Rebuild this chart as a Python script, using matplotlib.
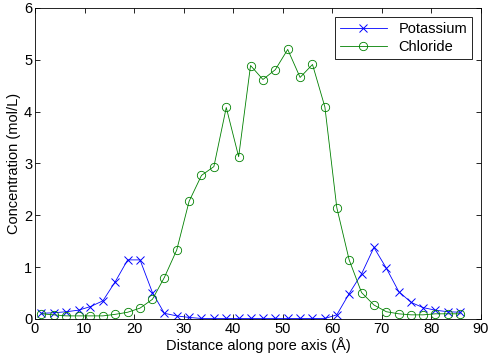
import matplotlib
matplotlib.use("Agg")
import matplotlib.pyplot as plt

plt.rcParams['font.family'] = ['Liberation Sans', 'DejaVu Sans']
plt.rcParams['font.size'] = 10

# distance along pore axis (Angstrom)
distance = [1.3, 3.8, 6.3, 8.8, 11.2, 13.7, 16.2, 18.7, 21.2, 23.7,
            26.1, 28.6, 31.1, 33.6, 36.1, 38.6, 41.1, 43.5, 46.0, 48.5,
            51.0, 53.5, 56.0, 58.5, 60.9, 63.4, 65.9, 68.4, 70.9, 73.4,
            75.9, 78.3, 80.8, 83.3, 85.8]

potassium = [0.11, 0.12, 0.14, 0.17, 0.24, 0.35, 0.72, 1.14, 1.14, 0.51,
             0.11, 0.06, 0.03, 0.01, 0.01, 0.01, 0.01, 0.01, 0.01, 0.01,
             0.01, 0.01, 0.01, 0.01, 0.08, 0.49, 0.87, 1.38, 0.98, 0.53,
             0.32, 0.22, 0.17, 0.14, 0.13]

chloride = [0.10, 0.08, 0.06, 0.06, 0.06, 0.06, 0.09, 0.13, 0.21, 0.38,
            0.80, 1.33, 2.27, 2.77, 2.94, 4.08, 3.13, 4.89, 4.62, 4.81,
            5.20, 4.66, 4.91, 4.09, 2.15, 1.14, 0.51, 0.27, 0.14, 0.10,
            0.08, 0.08, 0.10, 0.10, 0.10]

fig = plt.figure(figsize=(4.9, 3.62), dpi=100)
ax = fig.add_axes([0.0714, 0.1188, 0.9102, 0.8592])

ax.plot(distance, potassium, color=(0, 0, 1), lw=0.6, marker='x',
        markersize=6, markeredgewidth=0.7, label='Potassium')
ax.plot(distance, chloride, color=(0, 0.5, 0), lw=0.6, marker='o',
        markersize=6, markeredgewidth=0.6, markerfacecolor='none',
        label='Chloride')

ax.set_xlim(0, 90)
ax.set_ylim(0, 6)
ax.set_xticks(range(0, 91, 10))
ax.set_yticks(range(0, 7))
ax.tick_params(direction='in', top=True, right=True, length=3.5, width=0.6,
               pad=2, labelsize=10.5)
for s in ax.spines.values():
    s.set_linewidth(0.6)

ax.set_xlabel('Distance along pore axis (Å)', labelpad=1, fontsize=10.5)
ax.set_ylabel('Concentration (mol/L)', labelpad=2, fontsize=10.5)

leg = ax.legend(loc='upper right', fancybox=False, framealpha=1,
                edgecolor='black', handlelength=3.2, borderaxespad=0.6,
                borderpad=0.35, labelspacing=0.3, fontsize=10.5)
leg.get_frame().set_linewidth(0.6)

fig.savefig('out.png', dpi=100)
